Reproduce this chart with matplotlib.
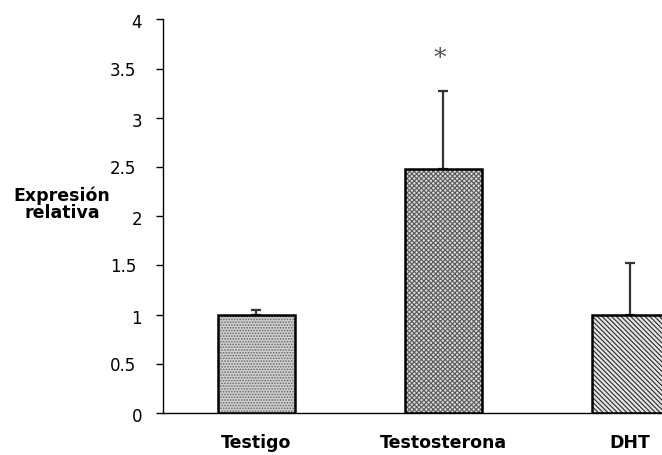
import numpy as np
import matplotlib.pyplot as plt
from matplotlib.transforms import ScaledTranslation

plt.rcParams['font.family'] = ['DejaVu Sans']
plt.rcParams['hatch.linewidth'] = 0.8

# --- datos ---
grupos = ["Testigo", "Testosterona", "DHT"]
expresion = [1.0, 2.48, 1.0]
error_sup = [0.05, 0.79, 0.52]
tramas = ["......", "xxxxxxx", "\\\\\\\\\\\\\\"]
fondos = ["#d0d0d0", "#dadada", "#e4e4e4"]
color_trama = ["#666666", "#5a5a5a", "#2a2a2a"]
yticks = [0, 0.5, 1, 1.5, 2, 2.5, 3, 3.5, 4]

fig = plt.figure(figsize=(6.62, 4.55), dpi=100)
# el eje se sale por la derecha, como en el original recortado
ax = fig.add_axes([0.2462, 0.0923, 0.847, 0.865])

x = np.arange(len(grupos))
for i in range(len(grupos)):
    ax.bar(x[i], expresion[i], width=0.41, facecolor=fondos[i],
           edgecolor=color_trama[i], hatch=tramas[i], linewidth=0, zorder=2)
    ax.bar(x[i], expresion[i], width=0.41, facecolor="none",
           edgecolor="black", linewidth=1.8, zorder=3)

ax.errorbar(x, expresion, yerr=[np.zeros(3), error_sup], fmt="none",
            ecolor="#333333", elinewidth=1.6, capsize=3.6, capthick=1.6, zorder=1)

ax.text(x[1] - 0.02, 3.6, "*", ha="center", va="center", fontsize=18,
        family="DejaVu Serif", color="#555555")

ax.set_xlim(-0.5, 2.5)
ax.set_ylim(0, 4)
ax.set_yticks(yticks)
ax.set_yticklabels([f"{v:g}" for v in yticks], fontsize=12)
ax.set_xticks(x)
ax.set_xticklabels(grupos, fontsize=12.5, fontweight="bold")
ax.tick_params(axis="x", length=0, pad=15)
ax.tick_params(axis="y", length=5, width=1, direction="out", pad=10)

# las etiquetas con decimales quedan algo más a la izquierda
for lbl in ax.get_yticklabels():
    if "." in lbl.get_text():
        lbl.set_transform(lbl.get_transform() +
                          ScaledTranslation(-0.06, 0, fig.dpi_scale_trans))
    else:
        lbl.set_transform(lbl.get_transform() +
                          ScaledTranslation(0, -0.02, fig.dpi_scale_trans))

for s in ["top", "right"]:
    ax.spines[s].set_visible(False)
ax.spines["left"].set_linewidth(1)
ax.spines["bottom"].set_linewidth(1)

fig.text(0.094, 0.551, "Expresión\nrelativa", ha="center", va="center",
         fontsize=12.5, fontweight="bold", linespacing=0.95)

fig.savefig("out.png", dpi=100)
